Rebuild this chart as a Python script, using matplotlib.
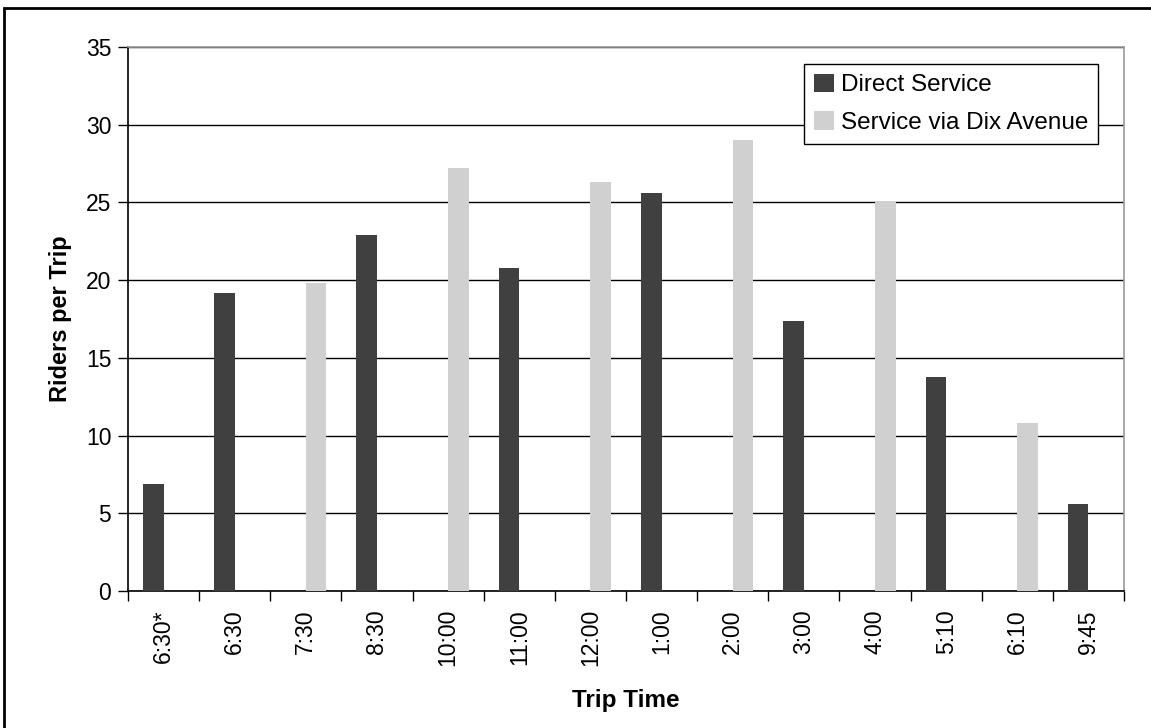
import matplotlib
matplotlib.use("Agg")
import matplotlib.pyplot as plt
import numpy as np
from matplotlib.patches import Rectangle

plt.rcParams['font.family'] = ['Liberation Sans', 'DejaVu Sans']

trip_times = ["6:30*", "6:30", "7:30", "8:30", "10:00", "11:00", "12:00",
              "1:00", "2:00", "3:00", "4:00", "5:10", "6:10", "9:45"]
direct_service = [6.9, 19.2, 0, 22.9, 0, 20.8, 0, 25.6, 0, 17.4, 0, 13.8, 0, 5.6]
dix_avenue = [0, 0, 19.8, 0, 27.2, 0, 26.3, 0, 29.0, 0, 25.0, 0, 10.8, 0]
y_ticks = [0, 5, 10, 15, 20, 25, 30, 35]

fig = plt.figure(figsize=(11.51, 7.28), dpi=100)
ax = fig.add_axes([128 / 1151, 1 - 591 / 728, (1124 - 128) / 1151, (591 - 47) / 728])

x = np.arange(len(trip_times))
w = 0.29
ax.bar(x - w / 2, direct_service, width=w, color="#404040", label="Direct Service", zorder=3)
ax.bar(x + w / 2, dix_avenue, width=w, color="#d0d0d0", label="Service via Dix Avenue", zorder=3)

ax.set_xlim(-0.5, len(trip_times) - 0.5)
ax.set_ylim(0, 35)
ax.set_yticks(y_ticks)
ax.yaxis.grid(True, color="black", linewidth=1.0, zorder=1)
ax.set_axisbelow(True)

ax.set_xticks(x)
ax.set_xticklabels(trip_times, rotation=90, fontsize=16.5)
ax.set_xticks(np.arange(-0.5, len(trip_times)), minor=True)
ax.tick_params(axis="x", which="major", length=0, pad=13)
ax.tick_params(axis="x", which="minor", length=7, width=1, direction="out", color="black")
ax.tick_params(axis="y", length=7, width=1, direction="out", labelsize=16.5, pad=5)

for side in ("top", "right"):
    ax.spines[side].set_color("#999999")
    ax.spines[side].set_linewidth(1.2)
for side in ("left", "bottom"):
    ax.spines[side].set_color("black")
    ax.spines[side].set_linewidth(1.2)

ax.set_ylabel("Riders per Trip", fontsize=17, fontweight="bold", labelpad=10)
ax.set_xlabel("Trip Time", fontsize=17.5, fontweight="bold", labelpad=16)

leg = ax.legend(loc="upper right", bbox_to_anchor=(970 / 996, 1 - 17 / 544),
                fontsize=17.5, frameon=True, fancybox=False, framealpha=1,
                edgecolor="black", handlelength=0.8, handleheight=0.8,
                handletextpad=0.3, borderpad=0.4, labelspacing=0.6, borderaxespad=0)
leg.get_frame().set_linewidth(1.0)

# outer chart frame
fig.patches.append(Rectangle((4 / 1151, -0.1), 1.2, 1 - 8 / 728 + 0.1,
                             transform=fig.transFigure, fill=False,
                             edgecolor="black", linewidth=2))

fig.savefig("out.png", dpi=100)
